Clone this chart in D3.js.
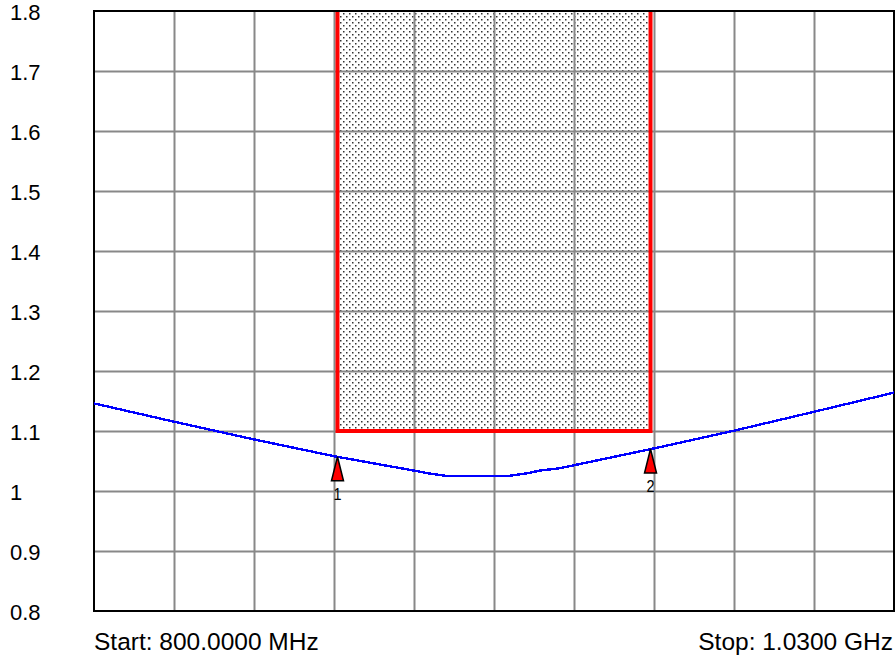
<!DOCTYPE html>
<html>
<head>
<meta charset="utf-8">
<script src="https://cdn.jsdelivr.net/npm/d3@7"></script>
<style>
  body { margin: 0; background: #fff; }
  svg text { font-family: "Liberation Sans", Arial, Helvetica, sans-serif; fill: #000; }
</style>
</head>
<body>
<div id="chart"></div>
<script>
// trace (MHz, VSWR)
const freqs = [800, 823, 846, 869, 892, 896, 901.5, 919, 924.5, 928.2, 934, 961, 984, 1007, 1030];
const vswr = [1.146, 1.1155, 1.086, 1.058, 1.034, 1.0295, 1.025, 1.025, 1.0295, 1.034, 1.038, 1.071, 1.1005, 1.132, 1.164];

// limit box (fail region) and markers
const limitFreqs = [870, 960];
const limitMin = 1.1;
const markerFreqs = [870, 960];
const markerVals = [1.057, 1.070];
const markerNames = ['1', '2'];

const yTicks = [0.8, 0.9, 1.0, 1.1, 1.2, 1.3, 1.4, 1.5, 1.6, 1.7, 1.8];
const xGrid = [823, 846, 869, 892, 915, 938, 961, 984, 1007];
const startLabel = 'Start: 800.0000 MHz';
const stopLabel = 'Stop: 1.0300 GHz';

const width = 896, height = 658;
const margin = { top: 11, right: 2, bottom: 47, left: 94 };

const svg = d3.select('#chart').append('svg')
  .attr('width', width)
  .attr('height', height);

const x = d3.scaleLinear().domain([800, 1030]).range([margin.left, width - margin.right]);
const y = d3.scaleLinear().domain([0.8, 1.8]).range([height - margin.bottom, margin.top]);

// dotted fill for the limit area
const defs = svg.append('defs');
const pat = defs.append('pattern')
  .attr('id', 'dots')
  .attr('patternUnits', 'userSpaceOnUse')
  .attr('width', 6).attr('height', 6);
pat.append('rect').attr('x', 1).attr('y', 1).attr('width', 1.5).attr('height', 1.5).attr('fill', '#333');
pat.append('rect').attr('x', 4).attr('y', 4).attr('width', 1.5).attr('height', 1.5).attr('fill', '#333');

// limit area fill first, grid on top of it
svg.append('rect')
  .attr('x', x(limitFreqs[0]))
  .attr('y', y(1.8))
  .attr('width', x(limitFreqs[1]) - x(limitFreqs[0]))
  .attr('height', y(limitMin) - y(1.8))
  .attr('fill', 'url(#dots)');

// grid
svg.append('g')
  .attr('transform', `translate(0,${y(0.8)})`)
  .call(d3.axisBottom(x).tickValues(xGrid).tickSize(-(y(0.8) - y(1.8))).tickFormat(''))
  .call(g => g.select('.domain').remove())
  .call(g => g.selectAll('line').attr('stroke', '#888').attr('stroke-width', 2));

svg.append('g')
  .attr('transform', `translate(${margin.left},0)`)
  .call(d3.axisLeft(y).tickValues(yTicks.slice(1, -1)).tickSize(-(x(1030) - x(800))).tickFormat(''))
  .call(g => g.select('.domain').remove())
  .call(g => g.selectAll('line').attr('stroke', '#888').attr('stroke-width', 2));

// y labels, left aligned
svg.append('g')
  .selectAll('text')
  .data(yTicks)
  .join('text')
  .attr('x', 10)
  .attr('y', d => y(d))
  .attr('dy', '0.42em')
  .attr('font-size', 22)
  .text(d => String(+d.toFixed(1)));

// limit outline (red)
const lx0 = x(limitFreqs[0]), lx1 = x(limitFreqs[1]), ly = y(limitMin);
svg.append('path')
  .attr('d', `M${lx0},${y(1.8)}V${ly}H${lx1}V${y(1.8)}`)
  .attr('fill', 'none')
  .attr('stroke', '#ff0000')
  .attr('stroke-width', 4);

// frame
svg.append('rect')
  .attr('x', x(800)).attr('y', y(1.8))
  .attr('width', x(1030) - x(800)).attr('height', y(0.8) - y(1.8))
  .attr('fill', 'none')
  .attr('stroke', '#000')
  .attr('stroke-width', 2);

// trace
const line = d3.line()
  .x((d, i) => x(freqs[i]))
  .y(d => y(d));

svg.append('path')
  .datum(vswr)
  .attr('fill', 'none')
  .attr('stroke', '#0000ff')
  .attr('stroke-width', 2.4)
  .attr('shape-rendering', 'crispEdges')
  .attr('d', line);

// markers
markerFreqs.forEach((f, i) => {
  const mx = x(f), my = y(markerVals[i]);
  svg.append('path')
    .attr('d', `M${mx},${my}L${mx + 6},${my + 24}L${mx - 6},${my + 24}Z`)
    .attr('fill', '#ff0000')
    .attr('stroke', '#000')
    .attr('stroke-width', 1.5)
    .attr('stroke-linejoin', 'miter');
  svg.append('text')
    .attr('x', mx)
    .attr('y', my + 43)
    .attr('text-anchor', 'middle')
    .attr('font-size', 17)
    .attr('transform', `translate(${mx},0) scale(0.85,1) translate(${-mx},0)`)
    .text(markerNames[i]);
});

// start / stop
svg.append('text')
  .attr('x', x(800))
  .attr('y', 650)
  .attr('font-size', 24.5)
  .text(startLabel);

svg.append('text')
  .attr('x', x(1030) - 1)
  .attr('y', 650)
  .attr('text-anchor', 'end')
  .attr('font-size', 24.5)
  .text(stopLabel);
</script>
</body>
</html>
